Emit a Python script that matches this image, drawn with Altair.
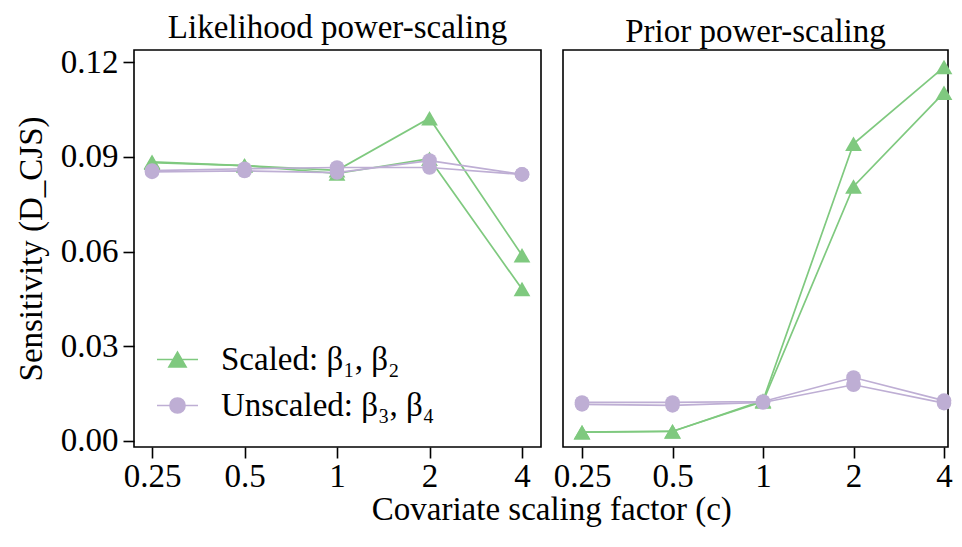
import altair as alt
import pandas as pd

# ---------------- data ----------------
c_values = [0.25, 0.5, 1, 2, 4]
panels = ["Likelihood power-scaling", "Prior power-scaling"]
series_names = ["Scaled: β₁, β₂", "Unscaled: β₃, β₄"]

# Likelihood power-scaling
lik_beta1 = [0.0884, 0.0872, 0.0857, 0.1022, 0.0588]
lik_beta2 = [0.0881, 0.0872, 0.0847, 0.0894, 0.0481]
lik_beta3 = [0.0856, 0.0862, 0.0866, 0.0866, 0.0844]
lik_beta4 = [0.0852, 0.0855, 0.0850, 0.0888, 0.0844]

# Prior power-scaling
pri_beta1 = [0.0028, 0.0030, 0.0128, 0.0941, 0.1184]
pri_beta2 = [0.0028, 0.0031, 0.0125, 0.0806, 0.1103]
pri_beta3 = [0.0122, 0.0122, 0.0125, 0.0201, 0.0128]
pri_beta4 = [0.0116, 0.0113, 0.0122, 0.0178, 0.0120]

y_ticks = [0.00, 0.03, 0.06, 0.09, 0.12]

# ---------------- table ----------------
rows = []
series_data = [
    (panels[0], "b1", series_names[0], lik_beta1),
    (panels[0], "b2", series_names[0], lik_beta2),
    (panels[0], "b3", series_names[1], lik_beta3),
    (panels[0], "b4", series_names[1], lik_beta4),
    (panels[1], "b1", series_names[0], pri_beta1),
    (panels[1], "b2", series_names[0], pri_beta2),
    (panels[1], "b3", series_names[1], pri_beta3),
    (panels[1], "b4", series_names[1], pri_beta4),
]
for panel, param, series, vals in series_data:
    for c, v in zip(c_values, vals):
        rows.append({"panel": panel, "param": param, "series": series, "c": c, "value": v})
df = pd.DataFrame(rows)

GREEN = "#7fc97f"
PURPLE = "#beaed4"
FONT = "Liberation Serif, DejaVu Serif, serif"
FS = 33

color_scale = alt.Scale(domain=series_names, range=[GREEN, PURPLE])
tri_path = "M-1,0L1,0M0,-0.36L-0.415,0.36L0.415,0.36Z"
circ_path = "M-1,0L1,0M0.366,0A0.366,0.366,0,1,1,-0.366,0A0.366,0.366,0,1,1,0.366,0Z"

y_domain = [-0.0019, 0.1238]
PLOT_H = 397

legend_def = alt.Legend(
    title=None, orient="none", legendX=22, legendY=288,
    symbolSize=1681, symbolStrokeWidth=1.7, symbolOpacity=1,
    labelFont=FONT, labelFontSize=FS, labelColor="black",
    labelOffset=22, rowPadding=7, padding=0, labelLimit=400,
)


def make_panel(name, x_domain, width, show_y, with_legend):
    d = df[df["panel"] == name]
    y_axis = (
        alt.Axis(values=y_ticks, format=".2f", title="Sensitivity (D_CJS)", titlePadding=12)
        if show_y else None
    )
    base = alt.Chart(d).encode(
        x=alt.X("c:Q",
                scale=alt.Scale(type="log", base=2, domain=x_domain, nice=False, zero=False),
                axis=alt.Axis(values=c_values, format="~g", title=None, labelPadding=2)),
        y=alt.Y("value:Q", scale=alt.Scale(domain=y_domain, nice=False, zero=False),
                axis=y_axis),
    )
    lines = base.mark_line(strokeWidth=1.7).encode(
        color=alt.Color("series:N", scale=color_scale, legend=None),
        detail="param:N",
    )
    tris = base.transform_filter(alt.datum.series == series_names[0]).mark_point(
        shape="triangle-up", filled=True, size=280, opacity=1
    ).encode(color=alt.Color("series:N", scale=color_scale, legend=None))
    circs = base.transform_filter(alt.datum.series == series_names[1]).mark_point(
        shape="circle", filled=True, size=215, opacity=1
    ).encode(color=alt.Color("series:N", scale=color_scale, legend=None))
    layers = [lines, tris, circs]
    if with_legend:
        leg = base.mark_point(opacity=0, strokeWidth=1.7).encode(
            fill=alt.Fill("series:N", scale=color_scale, legend=legend_def),
            stroke=alt.Stroke("series:N", scale=color_scale, legend=legend_def),
            shape=alt.Shape("series:N",
                            scale=alt.Scale(domain=series_names, range=[tri_path, circ_path]),
                            legend=legend_def),
        )
        layers.append(leg)
    return alt.layer(*layers).properties(
        width=width, height=PLOT_H,
        title=alt.TitleParams(name, font=FONT, fontSize=FS, fontWeight="normal",
                              color="black", offset=1),
    )


left = make_panel(panels[0], [0.2184, 4.612], 407, True, True)
right = make_panel(panels[1], [0.2161, 4.124], 385, False, False)

chart = alt.hconcat(left, right, spacing=22, bounds="flush").resolve_scale(
    x="independent", color="independent",
).properties(
    title=alt.TitleParams("Covariate scaling factor (c)", orient="bottom", anchor="middle",
                          font=FONT, fontSize=FS, fontWeight="normal", color="black",
                          dx=68, offset=0),
    padding={"left": 6, "top": 3, "right": 0, "bottom": 0},
    background="white",
).configure_view(
    stroke="black", strokeWidth=1.6
).configure_axis(
    labelFont=FONT, labelFontSize=FS, labelColor="black",
    titleFont=FONT, titleFontSize=FS, titleColor="black", titleFontWeight="normal",
    tickSize=11, tickWidth=1.6, tickColor="black", domain=False, grid=False,
    labelPadding=5,
)

chart.save("out.html", embed_options={"renderer": "svg", "actions": False})
